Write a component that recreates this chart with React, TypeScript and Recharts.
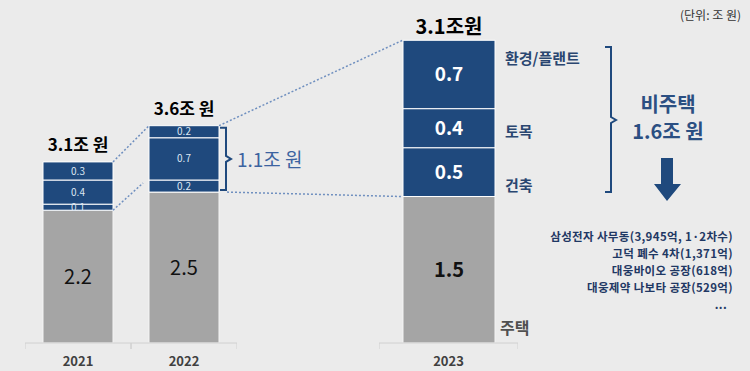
import { BarChart, Bar, XAxis, YAxis, LabelList } from "recharts"

const years = ["2021", "2022", "2023"]
const housing = [2.2, 2.5, 1.5]
const building = [0.1, 0.2, 0.5]
const civil = [0.4, 0.7, 0.4]
const plant = [0.3, 0.2, 0.7]
const totalLabels = ["3.1조 원", "3.6조 원", "3.1조원"]
const projects = [
    "삼성전자 사무동(3,945억, 1·2차수)",
    "고덕 폐수 4차(1,371억)",
    "대웅바이오 공장(618억)",
    "대웅제약 나보타 공장(529억)",
]

const NAVY = "#1f497d"
const GRAY = "#a5a5a5"
const BG = "#ebebeb"
const FONT = "'Noto Sans CJK KR', 'Noto Sans', sans-serif"

// layout of the two charts (left one is at normal scale, right one is zoomed)
const H = 371
const TOP = 11
const AXIS_H = 28
const BASE = H - AXIS_H
const MAX1 = 5.5
const MAX2 = 3.4
const C1_LEFT = 25
const C1_W = 212
const BAR1 = 70
const C2_LEFT = 379
const C2_W = 139
const BAR2 = 92

const rows = years.map((year, i) => ({
    year,
    housing: housing[i],
    building: building[i],
    civil: civil[i],
    plant: plant[i],
    total: totalLabels[i],
}))

const y1 = (v: number) => TOP + (BASE - TOP) * (1 - v / MAX1)
const y2 = (v: number) => TOP + (BASE - TOP) * (1 - v / MAX2)
const band1 = C1_W / 2
const barL = (i: number) => C1_LEFT + i * band1 + (band1 - BAR1) / 2
const barR = (i: number) => barL(i) + BAR1
const bar2L = C2_LEFT + (C2_W - BAR2) / 2
const sum = (i: number) => housing[i] + building[i] + civil[i] + plant[i]

const makeTick = (band: number) => (props: any) => {
    const { x, y, payload } = props
    return (
        <g>
            <line x1={x - band / 2} x2={x - band / 2} y1={y} y2={y + 6} stroke="#d0d0d0" />
            <line x1={x + band / 2} x2={x + band / 2} y1={y} y2={y + 6} stroke="#d0d0d0" />
            <text x={x} y={y + 23} textAnchor="middle" fontSize={13} fontWeight="bold" fill="#404040" fontFamily={FONT}>
                {payload.value}
            </text>
        </g>
    )
}

const smallLabel = { fill: "#dce6f2", fontSize: 10, fontFamily: FONT }
const bigLabel = { fill: "#ffffff", fontSize: 19, fontWeight: "bold", fontFamily: FONT }

const Chart = ({ data, width, max, barSize, big }: any) => (
    <BarChart
        width={width}
        height={H}
        data={data}
        margin={{ top: TOP, right: 0, bottom: 0, left: 0 }}
        barCategoryGap={0}
    >
        <XAxis
            dataKey="year"
            height={AXIS_H}
            axisLine={{ stroke: "#d0d0d0" }}
            tickLine={false}
            tickSize={0}
            tickMargin={0}
            tick={makeTick(width / data.length)}
            interval={0}
        />
        <YAxis hide domain={[0, max]} />
        <Bar dataKey="housing" stackId="a" fill={GRAY} stroke="#f4f4f4" strokeWidth={1} barSize={barSize} isAnimationActive={false}>
            <LabelList
                dataKey="housing"
                position="center"
                style={{ fill: "#111", fontSize: 20, fontWeight: big ? "bold" : "normal", fontFamily: FONT }}
            />
        </Bar>
        <Bar dataKey="building" stackId="a" fill={NAVY} stroke="#ffffff" strokeWidth={1} barSize={barSize} isAnimationActive={false}>
            <LabelList dataKey="building" position="center" style={big ? bigLabel : smallLabel} />
        </Bar>
        <Bar dataKey="civil" stackId="a" fill={NAVY} stroke="#ffffff" strokeWidth={1} barSize={barSize} isAnimationActive={false}>
            <LabelList dataKey="civil" position="center" style={big ? bigLabel : smallLabel} />
        </Bar>
        <Bar dataKey="plant" stackId="a" fill={NAVY} stroke="#ffffff" strokeWidth={1} barSize={barSize} isAnimationActive={false}>
            <LabelList dataKey="plant" position="center" style={big ? bigLabel : smallLabel} />
            <LabelList
                dataKey="total"
                position="top"
                offset={big ? 6 : 11}
                style={{ fill: "#000", fontSize: big ? 20 : 17, fontWeight: "bold", fontFamily: FONT }}
            />
        </Bar>
    </BarChart>
)

const brace = (x: number, top: number, bottom: number, mid: number) =>
    `M ${x - 6} ${top} L ${x} ${top} L ${x} ${mid - 3} L ${x + 5} ${mid} L ${x} ${mid + 3} L ${x} ${bottom} L ${x - 6} ${bottom}`

export default function App() {
    const top2022 = y1(sum(1))
    const navyBottom2022 = y1(housing[1])
    return (
        <div style={{ position: "absolute", left: 0, top: 0, width: 750, height: H, background: BG, fontFamily: FONT, overflow: "hidden" }}>
            <div style={{ position: "absolute", left: C1_LEFT, top: 0 }}>
                <Chart data={rows.slice(0, 2)} width={C1_W} max={MAX1} barSize={BAR1} big={false} />
            </div>
            <div style={{ position: "absolute", left: C2_LEFT, top: 0 }}>
                <Chart data={rows.slice(2)} width={C2_W} max={MAX2} barSize={BAR2} big={true} />
            </div>
            <svg width={750} height={H} style={{ position: "absolute", left: 0, top: 0, pointerEvents: "none" }} fontFamily={FONT}>
                <g stroke="#6f8fbf" strokeWidth={1.5} strokeDasharray="2 2" fill="none">
                    <line x1={barR(0)} y1={y1(sum(0))} x2={barL(1)} y2={top2022} />
                    <line x1={barR(0)} y1={y1(housing[0])} x2={barL(1) - 6} y2={y1(housing[0] + 0.45)} />
                    <line x1={barR(1)} y1={top2022} x2={bar2L} y2={y2(sum(2))} />
                    <line x1={barR(1) + 8} y1={navyBottom2022} x2={bar2L} y2={y2(housing[2])} />
                </g>
                <path d={brace(226, top2022 + 2, navyBottom2022 - 2, (top2022 + navyBottom2022) / 2)} stroke={NAVY} strokeWidth={2} fill="none" />
                <text x={237} y={158} dominantBaseline="central" fontSize={19} fill="#3c63a0">1.1조 원</text>

                <text x={741} y={14} textAnchor="end" dominantBaseline="central" fontSize={12} fill="#333">(단위: 조 원)</text>

                <g fontSize={15} fontWeight="bold" fill="#2a4670" dominantBaseline="central">
                    <text x={505} y={57}>환경/플랜트</text>
                    <text x={505} y={130}>토목</text>
                    <text x={505} y={184}>건축</text>
                    <text x={500} y={327} fill="#505050" fontSize={16}>주택</text>
                </g>

                <path d={brace(611, 47, 192, 120)} stroke={NAVY} strokeWidth={2} fill="none" />
                <g fontSize={20} fontWeight="bold" fill="#2b4f82" textAnchor="middle" dominantBaseline="central">
                    <text x={668} y={103}>비주택</text>
                    <text x={668} y={130}>1.6조 원</text>
                </g>
                <path d="M 661 158 L 673 158 L 673 184 L 681 184 L 667 201 L 654 184 L 661 184 Z" fill={NAVY} />

                <g fontSize={11.5} letterSpacing={0.35} fontWeight="bold" fill="#1f3864" textAnchor="end" dominantBaseline="central">
                    {projects.map((p, i) => (
                        <text key={p} x={733} y={236 + i * 17}>{p}</text>
                    ))}
                    <text x={727} y={304}>...</text>
                </g>
            </svg>
        </div>
    )
}
